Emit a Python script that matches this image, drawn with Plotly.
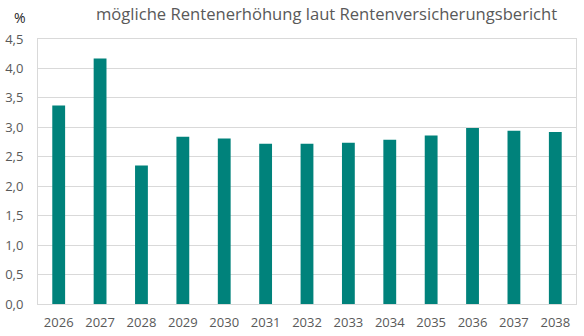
import plotly.graph_objects as go

years = ["2026", "2027", "2028", "2029", "2030", "2031", "2032",
         "2033", "2034", "2035", "2036", "2037", "2038"]
values = [3.37, 4.17, 2.35, 2.84, 2.81, 2.72, 2.72, 2.74, 2.79, 2.86, 2.99, 2.94, 2.92]
title_text = "mögliche Rentenerhöhung laut Rentenversicherungsbericht"
unit_label = "%"

fig = go.Figure(go.Bar(
    x=years, y=values,
    marker=dict(color="#00827B", line=dict(width=0)),
    width=0.31,
))

fig.update_layout(
    width=584, height=336,
    margin=dict(l=38, r=8, t=39, b=32),
    plot_bgcolor="white", paper_bgcolor="white",
    separators=",.",
    showlegend=False,
    font=dict(family="Open Sans", color="#595959", size=13),
    annotations=[
        dict(text=title_text, xref="paper", yref="paper", x=0.105, y=1.0,
             yshift=26, xanchor="left", yanchor="middle", showarrow=False,
             font=dict(size=16.6, color="#595959")),
        dict(text=unit_label, xref="paper", yref="paper", x=0, y=1.0,
             xshift=-18, yshift=22, xanchor="center", yanchor="middle",
             showarrow=False, font=dict(size=14, color="#262626")),
    ],
)
fig.update_yaxes(range=[0, 4.5], dtick=0.5, tickformat=".1f",
                 showgrid=True, gridcolor="#D9D9D9", gridwidth=1,
                 showline=True, linecolor="#D9D9D9", mirror=True,
                 zeroline=False, ticks="", ticklen=0, ticklabelstandoff=11,
                 automargin=False,
                 tickfont=dict(size=13, color="#595959"))
fig.update_xaxes(showline=True, linecolor="#D9D9D9", mirror=True,
                 showgrid=False, ticks="", ticklabelstandoff=6,
                 automargin=False,
                 tickfont=dict(size=13, color="#595959"))

fig.write_html("out.html")
